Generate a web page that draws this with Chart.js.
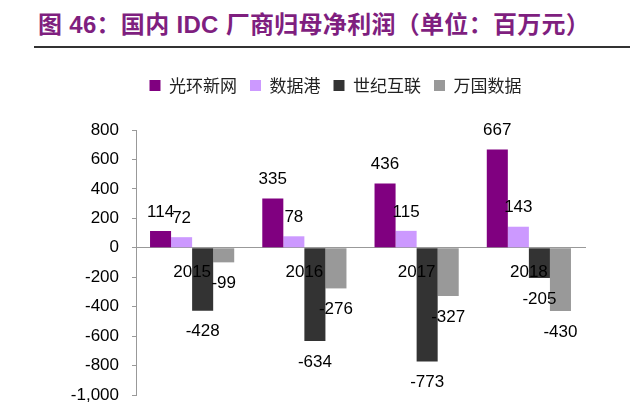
<!DOCTYPE html>
<html>
<head>
<meta charset="utf-8">
<script src="https://cdn.jsdelivr.net/npm/chart.js@4.4.0/dist/chart.umd.min.js"></script>
<style>
  body { margin: 0; background: #fff; }
  .page { position: relative; width: 640px; height: 408px; overflow: hidden; }
  .title {
    position: absolute; left: 38px; top: 5px;
    font-family: "Liberation Sans", "Noto Sans CJK SC", sans-serif;
    font-weight: bold; font-size: 24px; letter-spacing: 0.3px; color: #7f1f7f; white-space: nowrap;
  }
  .rule { position: absolute; left: 34px; top: 46px; width: 596px; height: 0; border-top: 2px solid #333; }
  #chart { position: absolute; left: 0; top: 0; }
</style>
</head>
<body>
<div class="page">
  <div class="title">图 46：国内 IDC 厂商归母净利润（单位：百万元）</div>
  <div class="rule"></div>
  <canvas id="chart" width="640" height="408"></canvas>
</div>
<script>
const years = ['2015', '2016', '2017', '2018'];
const companies = ['光环新网', '数据港', '世纪互联', '万国数据'];
const guanghuan = [114, 335, 436, 667];
const shujugang = [72, 78, 115, 143];
const shiji = [-428, -634, -773, -205];
const wanguo = [-99, -276, -327, -430];
const colors = ['#800080', '#cc99ff', '#333333', '#999999'];

const series = [guanghuan, shujugang, shiji, wanguo];

// draws the value above / below each bar
const barLabels = {
    id: 'barLabels',
    afterDatasetsDraw(chart) {
        const ctx = chart.ctx;
        ctx.save();
        ctx.font = '17px "Liberation Sans", Arial, sans-serif';
        ctx.fillStyle = '#000';
        ctx.textAlign = 'center';
        ctx.textBaseline = 'middle';
        chart.data.datasets.forEach((ds, i) => {
            chart.getDatasetMeta(i).data.forEach((bar, j) => {
                const v = ds.data[j];
                const y = v >= 0 ? bar.y - 19 : bar.y + 21;
                ctx.fillText(String(v), bar.x, y);
            });
        });
        ctx.restore();
    }
};

// extra room under the legend, and legend moved a bit right
const legendFix = {
    id: 'legendFix',
    beforeInit(chart) {
        const fit = chart.legend.fit;
        chart.legend.fit = function () {
            fit.bind(chart.legend)();
            this.height += 26;
        };
    },
    afterLayout(chart) {
        chart.legend.left += 43;
        chart.legend.right += 43;
    }
};

new Chart(document.getElementById('chart'), {
    type: 'bar',
    data: {
        labels: years,
        datasets: series.map((d, i) => ({
            label: companies[i],
            data: d,
            backgroundColor: colors[i],
            borderWidth: 0,
            categoryPercentage: 0.75,
            barPercentage: 1
        }))
    },
    options: {
        responsive: false,
        animation: false,
        layout: { padding: { left: 0, right: 55, top: 64, bottom: 13 } },
        plugins: {
            legend: {
                position: 'top',
                align: 'center',
                labels: {
                    boxWidth: 11,
                    boxHeight: 11,
                    padding: 13,
                    color: '#222',
                    font: { family: '"Noto Sans CJK SC", sans-serif', size: 17 }
                }
            },
            tooltip: { enabled: false }
        },
        scales: {
            x: {
                position: { y: 0 },
                afterFit(scale) { scale.height = 0; },
                grid: { display: false, drawTicks: false },
                border: { color: '#999', width: 1 },
                ticks: {
                    z: 1,
                    padding: 14,
                    color: '#000',
                    font: { family: '"Liberation Sans", Arial, sans-serif', size: 17 }
                }
            },
            y: {
                min: -1000,
                max: 800,
                afterFit(scale) {
                    scale.width = 136;
                    scale.paddingBottom = 0;
                },
                grid: { drawOnChartArea: false, tickLength: 4, color: '#999' },
                border: { color: '#999', width: 1 },
                ticks: {
                    stepSize: 200,
                    padding: 13,
                    color: '#000',
                    font: { family: '"Liberation Sans", Arial, sans-serif', size: 17 },
                    callback: (v) => v.toLocaleString('en-US')
                }
            }
        }
    },
    plugins: [barLabels, legendFix]
});
</script>
</body>
</html>
